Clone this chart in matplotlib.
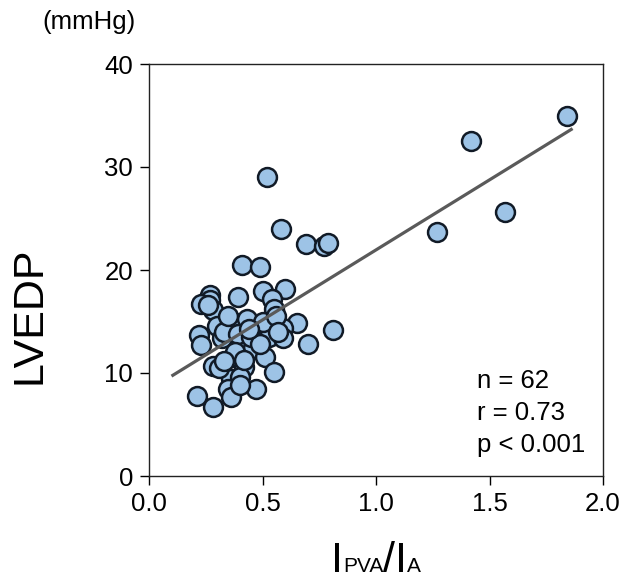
import numpy as np
import matplotlib.pyplot as plt

plt.rcParams['font.family'] = ['Liberation Sans', 'DejaVu Sans']

# datos (I_PVA/I_A vs LVEDP)
ratio = [1.84, 1.42, 1.57, 1.27, 0.52, 0.58, 0.69, 0.77, 0.79, 0.41,
         0.49, 0.27, 0.27, 0.23, 0.28, 0.39, 0.50, 0.60, 0.54, 0.55,
         0.30, 0.37, 0.43, 0.65, 0.81, 0.22, 0.23, 0.32, 0.47, 0.53,
         0.59, 0.59, 0.43, 0.46, 0.70, 0.37, 0.51, 0.28, 0.42, 0.55,
         0.36, 0.40, 0.47, 0.35, 0.36, 0.21, 0.28, 0.33, 0.39, 0.45,
         0.50, 0.56, 0.38, 0.42, 0.26, 0.31, 0.49, 0.35, 0.44, 0.57,
         0.40, 0.33]
lvedp = [35.0, 32.5, 25.6, 23.7, 29.0, 24.0, 22.5, 22.3, 22.6, 20.5,
         20.3, 17.6, 17.1, 16.7, 16.1, 17.4, 18.0, 18.2, 17.2, 16.2,
         14.6, 15.0, 15.2, 14.9, 14.2, 13.7, 12.7, 13.4, 14.1, 13.5,
         14.4, 13.4, 12.9, 12.4, 12.8, 11.6, 11.6, 10.7, 10.6, 10.1,
         9.4, 9.6, 8.4, 8.4, 7.7, 7.8, 6.7, 14.0, 13.8, 13.5,
         15.0, 15.5, 12.0, 11.3, 16.6, 10.5, 12.8, 15.5, 14.3, 14.0,
         8.8, 11.2]

# recta de regresion
fit_slope = 13.6
fit_intercept = 8.35
fit_range = [0.105, 1.86]
stats_lines = ['n = 62', 'r = 0.73', 'p < 0.001']

W, H = 627, 582
fig = plt.figure(figsize=(W / 100, H / 100), dpi=100)
ax = fig.add_axes([149 / W, 1 - 476 / H, (603 - 149) / W, (476 - 64) / H])

ax.scatter(ratio, lvedp, s=185, facecolor='#9dc3e6', edgecolor='#111a26',
           linewidths=1.8, zorder=2)
xf = np.array(fit_range)
ax.plot(xf, fit_slope * xf + fit_intercept, color='#5a5a5a', lw=2.3, zorder=3)

ax.set_xlim(0, 2.0)
ax.set_ylim(0, 40)
ax.set_xticks([0, 0.5, 1.0, 1.5, 2.0])
ax.set_xticklabels(['0.0', '0.5', '1.0', '1.5', '2.0'])
ax.set_yticks([0, 10, 20, 30, 40])
ax.tick_params(direction='out', length=6.5, width=1, labelsize=18.5,
               pad=5, colors='black')
for spine in ax.spines.values():
    spine.set_linewidth(1.0)
    spine.set_color('#222222')

# texto estadistico, una linea cada vez (linea base en pixeles)
for i, s in enumerate(stats_lines):
    fig.text(477 / W, 1 - (388 + 32 * i) / H, s, fontsize=18.5,
             ha='left', va='baseline')

fig.text(42 / W, 1 - 22 / H, '(mmHg)', fontsize=18.5, ha='left', va='center')
fig.text(30 / W, 1 - 315 / H, 'LVEDP', fontsize=31, rotation=90,
         ha='center', va='center')

# etiqueta eje x: I con subindices en mayusculas pequenas sobre la linea base
pieces = [('I', 31), ('PVA', 15), ('/', 31), ('I', 31), ('A', 15)]
renderer = fig.canvas.get_renderer()
texts = []
total = 0
for s, fs in pieces:
    t = fig.text(0, 1 - 572 / H, s, fontsize=fs, ha='left', va='baseline')
    w = t.get_window_extent(renderer).width
    texts.append((t, w))
    total += w
x0 = 376 - total / 2
for t, w in texts:
    t.set_x(x0 / W)
    x0 += w

fig.savefig('out.png', dpi=100)
